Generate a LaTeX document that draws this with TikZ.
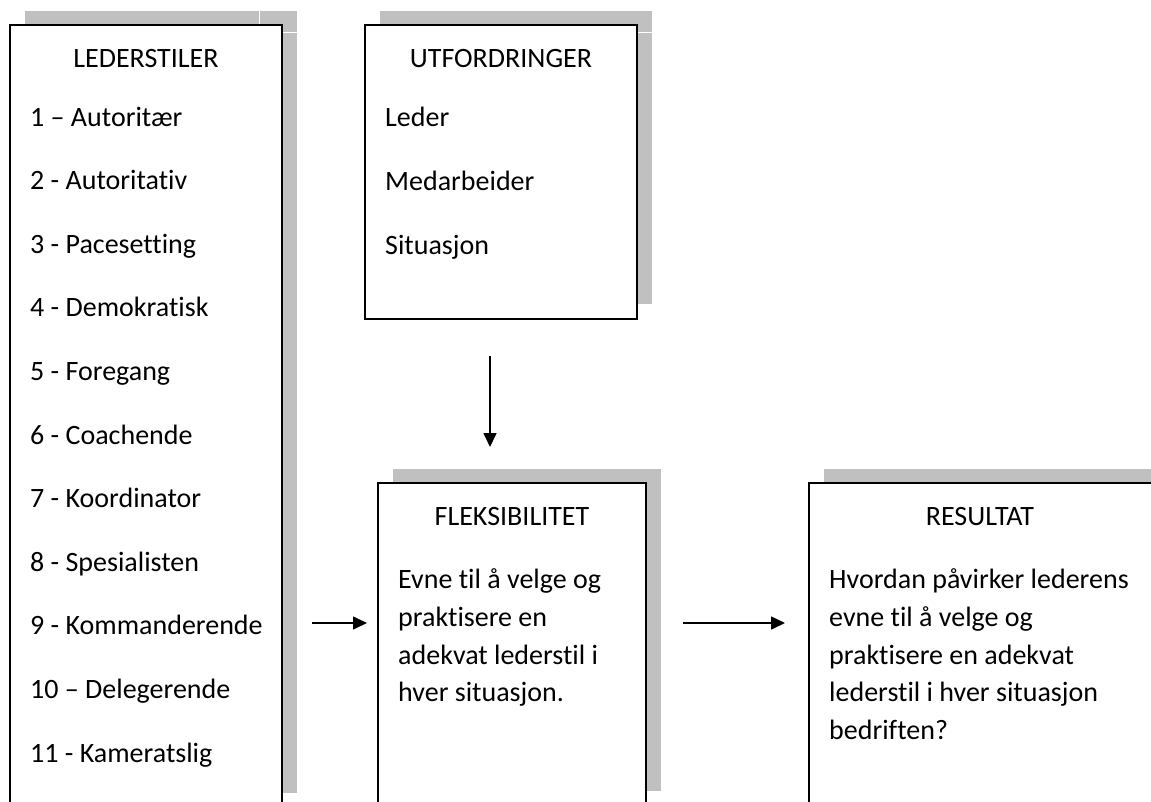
\documentclass[tikz,border=0pt]{standalone}
\usepackage{fontspec}
\setmainfont{Carlito}[Ligatures=NoCommon]
\usetikzlibrary{arrows.meta}
\begin{document}
\begin{tikzpicture}[x=1pt,y=-1pt,
  boxline/.style={draw=black,line width=2pt},
  txt/.style={inner sep=0pt,anchor=base west,font=\fontsize{28}{33}\selectfont},
  ttl/.style={inner sep=0pt,anchor=base,font=\fontsize{28}{33}\selectfont},
  conn/.style={draw=black,line width=1.6pt,-{Triangle[length=14pt,width=13pt]}},
  gap/.style={draw=white,line width=1pt}]
\definecolor{shadowgray}{HTML}{C0C0C0}
\useasboundingbox (0,0) rectangle (1151,801);
% shadows
\fill[shadowgray] (25,11) rectangle (297,793);
\fill[shadowgray] (380,11) rectangle (652,304);
\fill[shadowgray] (393,469) rectangle (661,791);
\fill[shadowgray] (824,469) rectangle (1151,801);
\draw[gap] (259,11) -- (259,25);
\draw[gap] (282,32) -- (297,32);
\draw[gap] (637,32) -- (652,32);
% boxes
\fill[white] (10,25) rectangle (282,801);
\draw[boxline] (10,802) -- (10,25) -- (282,25) -- (282,802);
\fill[white] (365,25) rectangle (637,319);
\draw[boxline] (365,25) rectangle (637,319);
\fill[white] (378,483) rectangle (646,801);
\draw[boxline] (378,802) -- (378,483) -- (646,483) -- (646,802);
\fill[white] (809,483) rectangle (1151,801);
\draw[boxline] (809,802) -- (809,483) -- (1152,483);
% LEDERSTILER
\node[ttl] (lt) at (146,67) {LEDERSTILER};
\foreach \t [count=\i] in {1 – Autoritær,2 - Autoritativ,3 - Pacesetting,4 - Demokratisk,5 - Foregang,6 - Coachende,7 - Koordinator,8 - Spesialisten,9 - Kommanderende,10 – Delegerende,11 - Kameratslig}
  \node[txt] (l\i) at (30,{126+63.6*(\i-1)}) {\t};
% UTFORDRINGER
\node[ttl] (ut) at (501,67) {UTFORDRINGER};
\node[txt] (u1) at (385,126) {Leder};
\node[txt] (u2) at (385,190) {Medarbeider};
\node[txt] (u3) at (385,254) {Situasjon};
% FLEKSIBILITET
\node[ttl] (ft) at (512,525) {FLEKSIBILITET};
\node[txt] (f1) at (398,588) {Evne til å velge og};
\node[txt] (f2) at (398,626) {praktisere en};
\node[txt] (f3) at (398,664) {adekvat lederstil i};
\node[txt] (f4) at (398,701) {hver situasjon.};
% RESULTAT
\node[ttl] (rt) at (980,525) {RESULTAT};
\node[txt] (r1) at (829,588) {Hvordan påvirker lederens};
\node[txt] (r2) at (829,626) {evne til å velge og};
\node[txt] (r3) at (829,664) {praktisere en adekvat};
\node[txt] (r4) at (829,701) {lederstil i hver situasjon};
\node[txt] (r5) at (829,739) {bedriften?};
% connectors
\coordinate (d1) at (490,356);
\coordinate (d2) at (490,447);
\coordinate (a1) at (312,623);
\coordinate (a2) at (367,623);
\coordinate (b1) at (683,623);
\coordinate (b2) at (785,623);
\draw[conn] (d1) -- (d2);
\draw[conn] (a1) -- (a2);
\draw[conn] (b1) -- (b2);
\end{tikzpicture}
\end{document}
